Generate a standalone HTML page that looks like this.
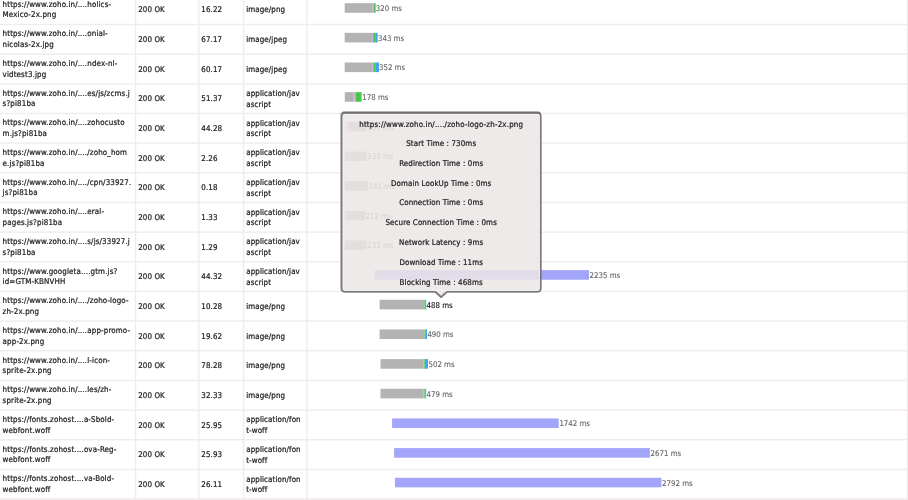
<!DOCTYPE html>
<html lang="en"><head><meta charset="utf-8"><title>Waterfall</title>
<style>
html,body{margin:0;padding:0;background:#fff;}
body{width:908px;height:500px;overflow:hidden;position:relative;font-family:"DejaVu Sans Condensed","Liberation Sans",sans-serif;font-size:7.9px;line-height:10.6px;color:#222;letter-spacing:0.11px;-webkit-text-stroke-width:0.22px;}
.r{position:absolute;left:0;width:908px;height:29.66px;}
.c{position:absolute;top:0;height:100%;display:flex;flex-direction:column;justify-content:center;white-space:nowrap;}
.c1{left:2.6px;padding-top:0.7px;letter-spacing:0.14px}.c2{left:138.2px;padding-top:1.1px}.c3{left:201.3px;padding-top:1.1px}.c4{left:246.2px;padding-top:1.1px}
.lb{position:absolute;color:#666;white-space:nowrap;line-height:10px;top:9.15px;font-size:7.8px;letter-spacing:0;-webkit-text-stroke-width:0.12px}
.bg{position:absolute;left:0;top:0;}
#tip{position:absolute;left:341px;top:0;width:200.4px;height:0;}
#tip div{position:absolute;left:0;width:100%;text-align:center;line-height:10px;white-space:nowrap;}
</style></head>
<body>
<svg class="bg" width="908" height="500" viewBox="0 0 908 500">
<rect x="134.80" y="0" width="1.4" height="500" fill="#f0eceb"/><rect x="198.10" y="0" width="1.4" height="500" fill="#f0eceb"/><rect x="242.90" y="0" width="1.4" height="500" fill="#f0eceb"/><rect x="306.20" y="0" width="1.4" height="500" fill="#f0eceb"/><rect x="906.70" y="0" width="1.4" height="500" fill="#f0eceb"/>
<rect x="0" y="23.80" width="908" height="1.4" fill="#f0eceb"/><rect x="0" y="53.46" width="908" height="1.4" fill="#f0eceb"/><rect x="0" y="83.12" width="908" height="1.4" fill="#f0eceb"/><rect x="0" y="112.78" width="908" height="1.4" fill="#f0eceb"/><rect x="0" y="142.44" width="908" height="1.4" fill="#f0eceb"/><rect x="0" y="172.10" width="908" height="1.4" fill="#f0eceb"/><rect x="0" y="201.76" width="908" height="1.4" fill="#f0eceb"/><rect x="0" y="231.42" width="908" height="1.4" fill="#f0eceb"/><rect x="0" y="261.08" width="908" height="1.4" fill="#f0eceb"/><rect x="0" y="290.74" width="908" height="1.4" fill="#f0eceb"/><rect x="0" y="320.40" width="908" height="1.4" fill="#f0eceb"/><rect x="0" y="350.06" width="908" height="1.4" fill="#f0eceb"/><rect x="0" y="379.72" width="908" height="1.4" fill="#f0eceb"/><rect x="0" y="409.38" width="908" height="1.4" fill="#f0eceb"/><rect x="0" y="439.04" width="908" height="1.4" fill="#f0eceb"/><rect x="0" y="468.70" width="908" height="1.4" fill="#f0eceb"/><rect x="0" y="498.36" width="908" height="2" fill="#f0eceb"/>
<rect x="344.7" y="3.19" width="27.30" height="9.6" fill="#b3b3b3"/><rect x="372.0" y="3.19" width="1.60" height="9.6" fill="#cdb4cf"/><rect x="373.6" y="3.19" width="2.00" height="9.6" fill="#48c64c"/>
<rect x="344.7" y="32.85" width="27.30" height="9.6" fill="#b3b3b3"/><rect x="372.0" y="32.85" width="1.10" height="9.6" fill="#cdb4cf"/><rect x="373.1" y="32.85" width="2.10" height="9.6" fill="#48c64c"/><rect x="375.2" y="32.85" width="2.50" height="9.6" fill="#3aa4f6"/>
<rect x="344.7" y="62.51" width="27.30" height="9.6" fill="#b3b3b3"/><rect x="372.0" y="62.51" width="1.30" height="9.6" fill="#cdb4cf"/><rect x="373.3" y="62.51" width="2.50" height="9.6" fill="#48c64c"/><rect x="375.8" y="62.51" width="3.10" height="9.6" fill="#3aa4f6"/>
<rect x="344.8" y="92.17" width="9.00" height="9.6" fill="#b3b3b3"/><rect x="353.8" y="92.17" width="1.80" height="9.6" fill="#cdb4cf"/><rect x="355.6" y="92.17" width="6.00" height="9.6" fill="#48c64c"/>
<rect x="345.4" y="121.83" width="3.00" height="9.6" fill="#f3c9a0"/><rect x="348.4" y="121.83" width="18.10" height="9.6" fill="#b3b3b3"/>
<rect x="344.8" y="151.49" width="22.00" height="9.6" fill="#b3b3b3"/>
<rect x="344.8" y="181.15" width="23.20" height="9.6" fill="#b3b3b3"/>
<rect x="344.8" y="210.81" width="20.20" height="9.6" fill="#b3b3b3"/>
<rect x="344.8" y="240.47" width="22.00" height="9.6" fill="#b3b3b3"/>
<rect x="374.8" y="270.13" width="214.20" height="9.6" fill="#a2a5f9"/>
<rect x="379.6" y="299.79" width="44.80" height="9.6" fill="#b3b3b3"/><rect x="424.4" y="299.79" width="0.80" height="9.6" fill="#48c64c"/><rect x="425.2" y="299.79" width="1.00" height="9.6" fill="#3aa4f6"/>
<rect x="379.6" y="329.45" width="44.50" height="9.6" fill="#b3b3b3"/><rect x="424.1" y="329.45" width="0.40" height="9.6" fill="#cdb4cf"/><rect x="424.5" y="329.45" width="1.30" height="9.6" fill="#48c64c"/><rect x="425.8" y="329.45" width="1.20" height="9.6" fill="#3aa4f6"/>
<rect x="380.5" y="359.11" width="43.30" height="9.6" fill="#b3b3b3"/><rect x="423.8" y="359.11" width="0.50" height="9.6" fill="#cdb4cf"/><rect x="424.3" y="359.11" width="1.70" height="9.6" fill="#48c64c"/><rect x="426" y="359.11" width="2.00" height="9.6" fill="#3aa4f6"/>
<rect x="380.5" y="388.77" width="43.30" height="9.6" fill="#b3b3b3"/><rect x="423.8" y="388.77" width="0.50" height="9.6" fill="#cdb4cf"/><rect x="424.3" y="388.77" width="1.40" height="9.6" fill="#48c64c"/><rect x="425.7" y="388.77" width="0.50" height="9.6" fill="#3aa4f6"/>
<rect x="392.1" y="418.43" width="166.60" height="9.6" fill="#a2a5f9"/>
<rect x="394.1" y="448.09" width="255.80" height="9.6" fill="#a2a5f9"/>
<rect x="394.9" y="477.75" width="266.50" height="9.6" fill="#a2a5f9"/>
</svg>
<div class="r" style="top:-5.16px"><div class="c c1"><span>https://www.zoho.in/....holics-</span><span>Mexico-2x.png</span></div><div class="c c2"><span>200 OK</span></div><div class="c c3"><span>16.22</span></div><div class="c c4"><span>image/png</span></div><div class="lb" style="left:375.8px">320 ms</div></div>
<div class="r" style="top:24.50px"><div class="c c1"><span>https://www.zoho.in/....onial-</span><span>nicolas-2x.jpg</span></div><div class="c c2"><span>200 OK</span></div><div class="c c3"><span>67.17</span></div><div class="c c4"><span>image/jpeg</span></div><div class="lb" style="left:378.0px">343 ms</div></div>
<div class="r" style="top:54.16px"><div class="c c1"><span>https://www.zoho.in/....ndex-nl-</span><span>vidtest3.jpg</span></div><div class="c c2"><span>200 OK</span></div><div class="c c3"><span>60.17</span></div><div class="c c4"><span>image/jpeg</span></div><div class="lb" style="left:379.0px">352 ms</div></div>
<div class="r" style="top:83.82px"><div class="c c1"><span>https://www.zoho.in/....es/js/zcms.j</span><span>s?pi81ba</span></div><div class="c c2"><span>200 OK</span></div><div class="c c3"><span>51.37</span></div><div class="c c4"><span>application/jav</span><span>ascript</span></div><div class="lb" style="left:362.3px">178 ms</div></div>
<div class="r" style="top:113.48px"><div class="c c1"><span>https://www.zoho.in/....zohocusto</span><span>m.js?pi81ba</span></div><div class="c c2"><span>200 OK</span></div><div class="c c3"><span>44.28</span></div><div class="c c4"><span>application/jav</span><span>ascript</span></div><div class="lb" style="left:367.3px">233 ms</div></div>
<div class="r" style="top:143.14px"><div class="c c1"><span>https://www.zoho.in/..../zoho_hom</span><span>e.js?pi81ba</span></div><div class="c c2"><span>200 OK</span></div><div class="c c3"><span>2.26</span></div><div class="c c4"><span>application/jav</span><span>ascript</span></div><div class="lb" style="left:367.3px">233 ms</div></div>
<div class="r" style="top:172.80px"><div class="c c1"><span>https://www.zoho.in/..../cpn/33927.</span><span>js?pi81ba</span></div><div class="c c2"><span>200 OK</span></div><div class="c c3"><span>0.18</span></div><div class="c c4"><span>application/jav</span><span>ascript</span></div><div class="lb" style="left:368.5px">241 ms</div></div>
<div class="r" style="top:202.46px"><div class="c c1"><span>https://www.zoho.in/....eral-</span><span>pages.js?pi81ba</span></div><div class="c c2"><span>200 OK</span></div><div class="c c3"><span>1.33</span></div><div class="c c4"><span>application/jav</span><span>ascript</span></div><div class="lb" style="left:365.3px">212 ms</div></div>
<div class="r" style="top:232.12px"><div class="c c1"><span>https://www.zoho.in/....s/js/33927.j</span><span>s?pi81ba</span></div><div class="c c2"><span>200 OK</span></div><div class="c c3"><span>1.29</span></div><div class="c c4"><span>application/jav</span><span>ascript</span></div><div class="lb" style="left:367.3px">233 ms</div></div>
<div class="r" style="top:261.78px"><div class="c c1"><span>https://www.googleta....gtm.js?</span><span>id=GTM-KBNVHH</span></div><div class="c c2"><span>200 OK</span></div><div class="c c3"><span>44.32</span></div><div class="c c4"><span>application/jav</span><span>ascript</span></div><div class="lb" style="left:589.6px">2235 ms</div></div>
<div class="r" style="top:291.44px"><div class="c c1"><span>https://www.zoho.in/..../zoho-logo-</span><span>zh-2x.png</span></div><div class="c c2"><span>200 OK</span></div><div class="c c3"><span>10.28</span></div><div class="c c4"><span>image/png</span></div><div class="lb" style="left:426.6px;color:#111">488 ms</div></div>
<div class="r" style="top:321.10px"><div class="c c1"><span>https://www.zoho.in/....app-promo-</span><span>app-2x.png</span></div><div class="c c2"><span>200 OK</span></div><div class="c c3"><span>19.62</span></div><div class="c c4"><span>image/png</span></div><div class="lb" style="left:427.4px">490 ms</div></div>
<div class="r" style="top:350.76px"><div class="c c1"><span>https://www.zoho.in/....l-icon-</span><span>sprite-2x.png</span></div><div class="c c2"><span>200 OK</span></div><div class="c c3"><span>78.28</span></div><div class="c c4"><span>image/png</span></div><div class="lb" style="left:428.5px">502 ms</div></div>
<div class="r" style="top:380.42px"><div class="c c1"><span>https://www.zoho.in/....les/zh-</span><span>sprite-2x.png</span></div><div class="c c2"><span>200 OK</span></div><div class="c c3"><span>32.33</span></div><div class="c c4"><span>image/png</span></div><div class="lb" style="left:426.6px">479 ms</div></div>
<div class="r" style="top:410.08px"><div class="c c1"><span>https://fonts.zohost....a-Sbold-</span><span>webfont.woff</span></div><div class="c c2"><span>200 OK</span></div><div class="c c3"><span>25.95</span></div><div class="c c4"><span>application/fon</span><span>t-woff</span></div><div class="lb" style="left:559.4px">1742 ms</div></div>
<div class="r" style="top:439.74px"><div class="c c1"><span>https://fonts.zohost....ova-Reg-</span><span>webfont.woff</span></div><div class="c c2"><span>200 OK</span></div><div class="c c3"><span>25.93</span></div><div class="c c4"><span>application/fon</span><span>t-woff</span></div><div class="lb" style="left:650.6px">2671 ms</div></div>
<div class="r" style="top:469.40px"><div class="c c1"><span>https://fonts.zohost....va-Bold-</span><span>webfont.woff</span></div><div class="c c2"><span>200 OK</span></div><div class="c c3"><span>26.11</span></div><div class="c c4"><span>application/fon</span><span>t-woff</span></div><div class="lb" style="left:662.1px">2792 ms</div></div>
<svg class="bg" width="908" height="500" viewBox="0 0 908 500"><path d="M345.0 113.0 H537.5 Q540.7 113.0 540.7 116.2 V288.6 Q540.7 291.8 537.5 291.8 H446.9 L441.2 297.2 L435.5 291.8 H345.0 Q341.8 291.8 341.8 288.6 V116.2 Q341.8 113.0 345.0 113.0 Z" transform="translate(-0.45,-0.5)" fill="none" stroke="#8c8c8c" stroke-opacity=".6" stroke-width="2.5" stroke-linejoin="round"/><path d="M345.0 113.0 H537.5 Q540.7 113.0 540.7 116.2 V288.6 Q540.7 291.8 537.5 291.8 H446.9 L441.2 297.2 L435.5 291.8 H345.0 Q341.8 291.8 341.8 288.6 V116.2 Q341.8 113.0 345.0 113.0 Z" fill="rgba(235,230,229,0.86)" stroke="#777" stroke-width="1.6" stroke-linejoin="round"/><path d="M343.3 112.85 H539.2" fill="none" stroke="#6c6c6c" stroke-opacity=".85" stroke-width="2.1" stroke-linecap="round"/><rect x="343.05" y="114.25" width="196.40" height="176.30" rx="1.8" fill="none" stroke="#fff" stroke-opacity=".75" stroke-width="0.7"/></svg>
<div id="tip"><div style="top:119.40px;letter-spacing:0.17px;margin-top:0.5px">https://www.zoho.in/..../zoho-logo-zh-2x.png</div><div style="top:139.17px">Start Time : 730ms</div><div style="top:158.94px">Redirection Time : 0ms</div><div style="top:178.71px">Domain LookUp Time : 0ms</div><div style="top:198.48px">Connection Time : 0ms</div><div style="top:218.25px">Secure Connection Time : 0ms</div><div style="top:238.02px">Network Latency : 9ms</div><div style="top:257.79px">Download Time : 11ms</div><div style="top:277.56px">Blocking Time : 468ms</div></div>
</body></html>
